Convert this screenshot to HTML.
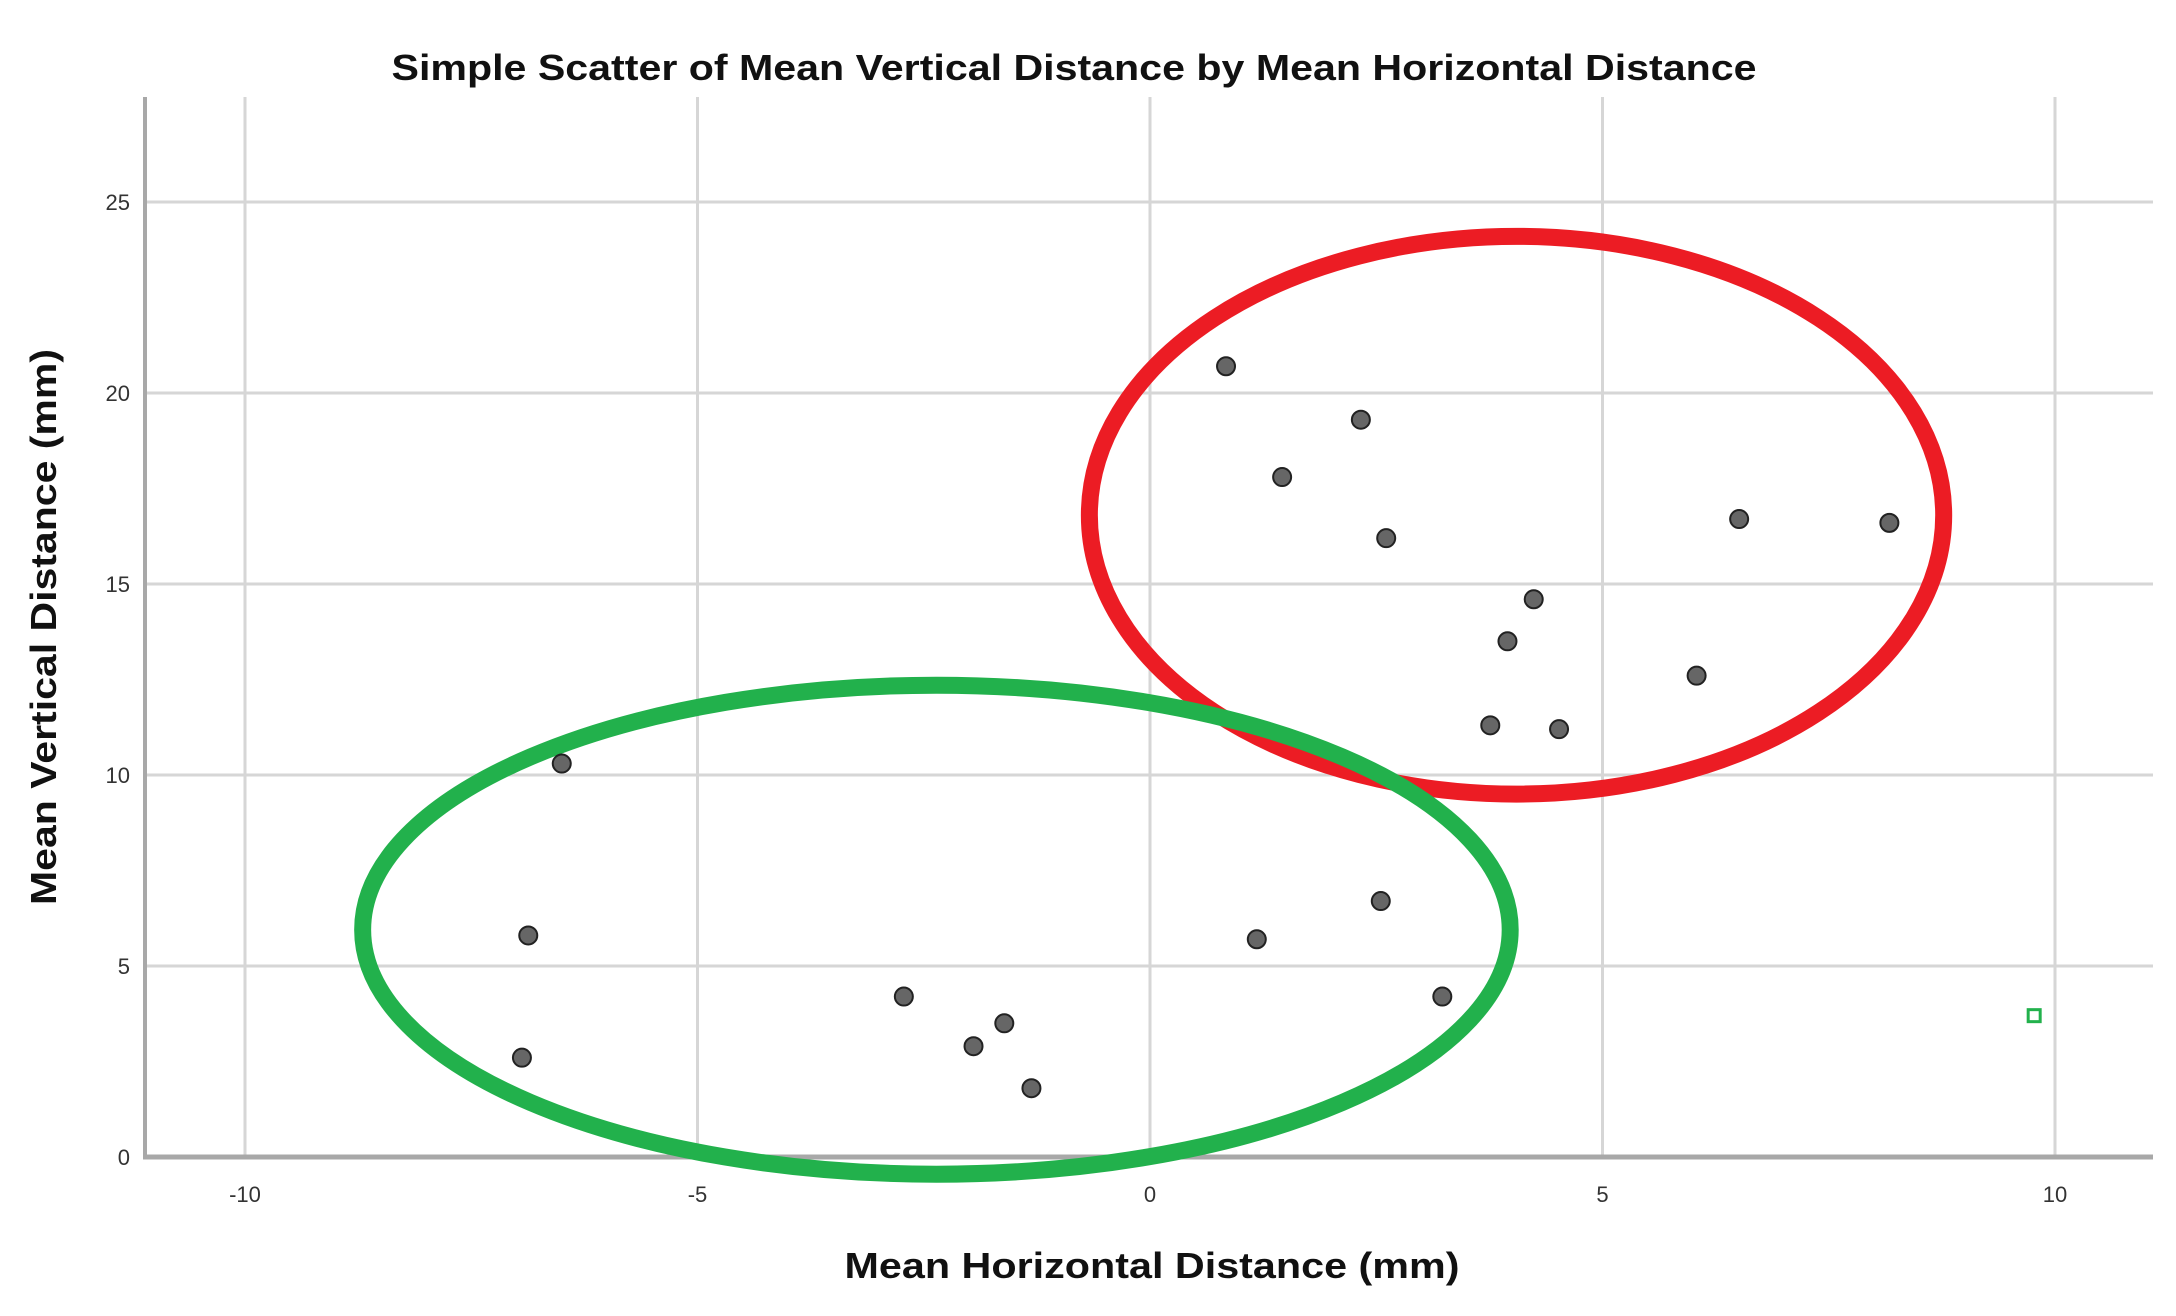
<!DOCTYPE html>
<html><head><meta charset="utf-8"><style>
html,body{margin:0;padding:0;background:#fff}
svg{display:block}
text{font-family:"Liberation Sans",sans-serif}
</style></head><body>
<svg id="chart" width="2176" height="1316" viewBox="0 0 2176 1316" xmlns="http://www.w3.org/2000/svg">
<text x="1074" y="80" text-anchor="middle" font-size="36" font-weight="bold" fill="#111" textLength="1365" lengthAdjust="spacingAndGlyphs">Simple Scatter of Mean Vertical Distance by Mean Horizontal Distance</text>
<text x="1152" y="1278" text-anchor="middle" font-size="36" font-weight="bold" fill="#111" textLength="615" lengthAdjust="spacingAndGlyphs">Mean Horizontal Distance (mm)</text>
<text transform="translate(56,627) rotate(-90)" text-anchor="middle" font-size="36" font-weight="bold" fill="#111" textLength="556" lengthAdjust="spacingAndGlyphs">Mean Vertical Distance (mm)</text>
<g id="grid"></g><g id="axes"></g><g id="ellipses"></g><g id="points"></g>
</svg>
<script>
const xTicks=[-10,-5,0,5,10];
const yTicks=[0,5,10,15,20,25];
const xVals=[0.84,2.33,1.46,2.61,6.51,8.17,4.24,3.95,6.04,3.76,4.52,-6.50,-6.87,-6.94,-2.72,-1.95,-1.61,-1.31,1.18,2.55,3.23];
const yVals=[20.7,19.3,17.8,16.2,16.7,16.6,14.6,13.5,12.6,11.3,11.2,10.3,5.8,2.6,4.2,2.9,3.5,1.8,5.7,6.7,4.2];
const outlierX=[9.77];
const outlierY=[3.7];
const ellipseCX=[4.05,-2.36];
const ellipseCY=[16.8,5.95];
const ellipseRX=[4.72,6.34];
const ellipseRY=[7.3,6.4];
const ellipseColor=['#ec1c24','#22b14c'];

const X=v=>1150+v*90.5;
const Y=v=>1157-v*38.2;
const NS='http://www.w3.org/2000/svg';
function mk(tag,attrs,parent){const e=document.createElementNS(NS,tag);for(const k in attrs)e.setAttribute(k,attrs[k]);document.getElementById(parent).appendChild(e);return e;}

xTicks.forEach(t=>{
  const l=mk('line',{x1:X(t),x2:X(t),y1:97,y2:1157,stroke:'#d6d6d6','stroke-width':3},'grid');
  
  
  const tx=mk('text',{x:X(t),y:1202,'text-anchor':'middle','font-size':22,fill:'#333'},'grid');
  tx.textContent=t;
  
  
});
yTicks.forEach(t=>{
  if(t>0){const l=mk('line',{x1:145,x2:2153,y1:Y(t),y2:Y(t),stroke:'#d6d6d6','stroke-width':3},'grid');
  
  }
  const tx=mk('text',{x:130,y:Y(t)+8,'text-anchor':'end','font-size':22,fill:'#333'},'grid');
  tx.textContent=t;
  
  
});
const ya=mk('line',{x1:145,x2:145,y1:97,y2:1159,stroke:'#a8a8a8','stroke-width':4},'axes');


const xa=mk('line',{x1:143,x2:2153,y1:1157,y2:1157,stroke:'#a8a8a8','stroke-width':5},'axes');



ellipseCX.forEach((c,i)=>{
  const e=mk('ellipse',{cx:X(c),cy:Y(ellipseCY[i]),rx:ellipseRX[i]*90.5,ry:ellipseRY[i]*38.2,fill:'none',stroke:ellipseColor[i],'stroke-width':17},'ellipses');
  
  
});
xVals.forEach((v,i)=>{
  const c=mk('circle',{cx:X(v),cy:Y(yVals[i]),r:9,fill:'#666',stroke:'#222','stroke-width':2},'points');
  
  
});
outlierX.forEach((v,i)=>{
  const r=mk('rect',{x:X(v)-6,y:Y(outlierY[i])-6,width:12,height:12,fill:'#fff',stroke:'#22b14c','stroke-width':3},'points');
  
  
});
</script>
</body></html>
